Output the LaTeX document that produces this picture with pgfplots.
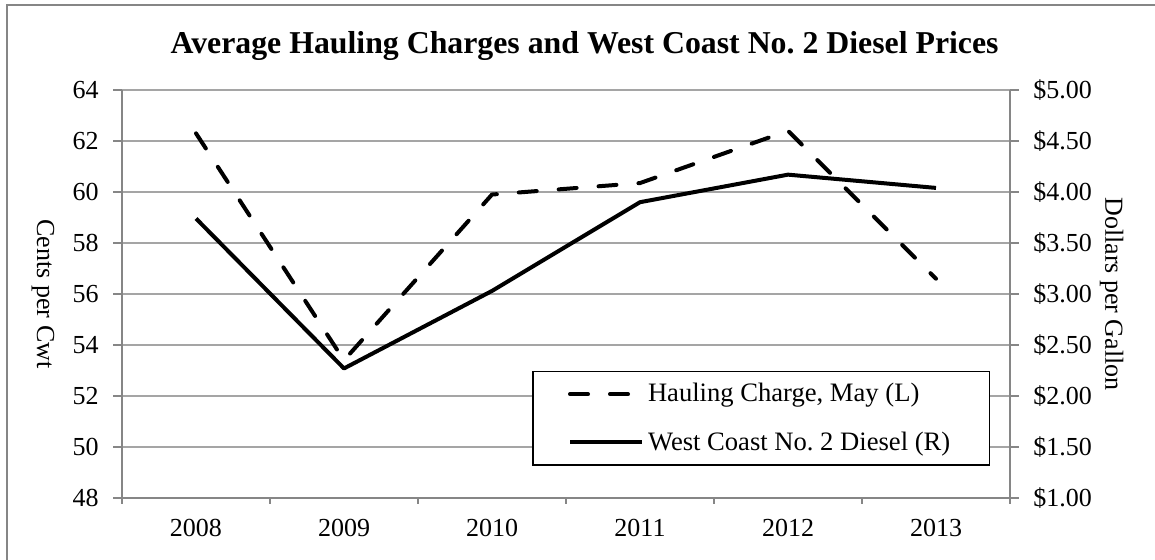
\documentclass[border=0pt]{standalone}
\usepackage{fontspec}
\setmainfont{Liberation Serif}
\usepackage{pgfplots}
\pgfplotsset{compat=1.18}
\frenchspacing

\definecolor{gridgray}{RGB}{165,165,165}
\definecolor{axisgray}{RGB}{134,134,134}

\pgfplotsset{
  base/.style={
    width=444pt, height=204pt, scale only axis,
    at={(0,0)}, anchor=south west,
    xmin=2007.5, xmax=2013.5,
    font=\fontsize{13}{15}\selectfont,
    /pgf/number format/assume math mode=true,
    axis line style={axisgray, line width=0.75pt},
    tick style={axisgray, line width=0.75pt},
    major tick length=4.5pt,
    minor tick length=3pt,
  },
}

\begin{document}
\begin{tikzpicture}
\useasboundingbox (-61pt,-31pt) rectangle (516.5pt,249pt);
\draw[axisgray, line width=1pt] (-57.5pt,-40pt) -- (-57.5pt,246.5pt) -- (530pt,246.5pt);

% left axis: hauling charge, cents per cwt
\begin{axis}[base,
  axis x line*=bottom, axis y line*=left, tick align=outside,
  ymin=48, ymax=64, ytick={48,50,...,64},
  ymajorgrids, grid style={gridgray, line width=0.75pt},
  xtick={2008,2009,2010,2011,2012,2013},
  xticklabels={2008,2009,2010,2011,2012,2013},
  major x tick style={draw=none},
  minor xtick={2007.5,2008.5,2009.5,2010.5,2011.5,2012.5,2013.5},
  yticklabel style={inner sep=0pt, xshift=-7pt},
  xticklabel style={inner sep=0pt, yshift=-6pt},
  ylabel={Cents per Cwt},
  ylabel style={rotate=180, at={(axis description cs:-0.089,0.5)}, anchor=center},
  title={\fontsize{15.9}{18}\selectfont\bfseries Average Hauling Charges and West Coast No.\ 2 Diesel Prices},
  title style={at={(axis description cs:0.521,1)}, anchor=base, yshift=12pt},
]
\addplot[black, line width=2pt, line cap=round, dash pattern=on 9pt off 11pt] coordinates {
  (2008,62.3) (2009,53.4) (2010,59.9) (2011,60.35) (2012,62.4) (2013,56.6)
};
\end{axis}

% right axis: diesel, dollars per gallon
\begin{axis}[base,
  axis x line=none, axis y line*=right, tick align=outside,
  ymin=1, ymax=5, ytick={1,1.5,...,5},
  yticklabel={\$\pgfmathprintnumber[fixed,fixed zerofill,precision=2]{\tick}},
  yticklabel style={inner sep=0pt, xshift=7pt},
  ylabel={Dollars per Gallon},
  ylabel style={rotate=180, at={(axis description cs:1.1145,0.5)}, anchor=center},
  legend style={at={(axis description cs:0.9775,0.079)}, anchor=south east,
    draw=black, line width=0.75pt, fill=white,
    font=\fontsize{13.3}{15}\selectfont,
    inner xsep=17.5pt, inner ysep=4pt, row sep=9.3pt},
  legend cell align=left,
  legend image code/.code={\draw[#1] (0pt,0pt) -- (36pt,0pt);},
]
\addlegendimage{black, line width=2pt, line cap=round, dash pattern=on 9pt off 11pt}
\addlegendentry{Hauling Charge, May (L)}
\addplot[black, line width=2pt, line join=round] coordinates {
  (2008,3.74) (2009,2.27) (2010,3.03) (2011,3.90) (2012,4.17) (2013,4.04)
};
\addlegendentry{West Coast No.\ 2 Diesel (R)}
\end{axis}
\end{tikzpicture}
\end{document}
